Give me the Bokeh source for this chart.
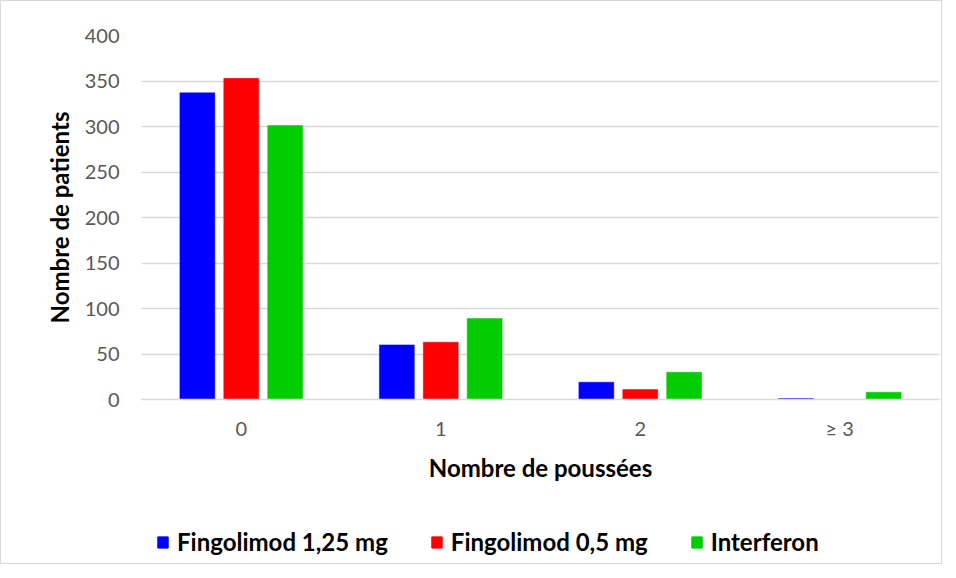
from bokeh.plotting import figure
from bokeh.layouts import column
from bokeh.models import ColumnDataSource, FactorRange, Legend, LegendItem, Range1d
from bokeh.transform import dodge
from bokeh.embed import file_html
from bokeh.resources import INLINE

categories = ["0", "1", "2", "≥ 3"]
fingolimod_125 = [337, 60, 19, 1]
fingolimod_05 = [353, 63, 11, 0]
interferon = [301, 89, 30, 8]
series_names = ["Fingolimod 1,25 mg", "Fingolimod 0,5 mg", "Interferon"]
colors = ["#0000ff", "#ff0000", "#00cc00"]

FONT = "Lato"

source = ColumnDataSource(data=dict(cat=categories, f125=fingolimod_125,
                                    f05=fingolimod_05, ifn=interferon))

p = figure(x_range=FactorRange(*categories), y_range=Range1d(0, 400),
           frame_width=798, frame_height=364, output_backend="svg", toolbar_location=None,
           min_border_left=140, min_border_right=2, min_border_top=34,
           min_border_bottom=100)

offsets = [-0.22, 0.0, 0.22]
for col, off, c in zip(["f125", "f05", "ifn"], offsets, colors):
    p.vbar(x=dodge("cat", off, range=p.x_range), top=col, width=0.175,
           source=source, fill_color=c, line_color=c, line_width=0.5)

p.outline_line_color = None
p.xgrid.grid_line_color = None
p.ygrid.grid_line_color = "#d9d9d9"
p.ygrid.grid_line_width = 1.3
p.yaxis.ticker = [0, 50, 100, 150, 200, 250, 300, 350, 400]

for ax in (p.xaxis, p.yaxis):
    ax.major_tick_line_color = None
    ax.minor_tick_line_color = None
    ax.major_tick_out = 0
    ax.major_tick_in = 0
    ax.minor_tick_out = 0
    ax.major_label_text_font = FONT
    ax.major_label_text_font_size = "20px"
    ax.major_label_text_color = "#595959"
    ax.axis_label_text_font = FONT
    ax.axis_label_text_font_style = "bold"
    ax.axis_label_text_font_size = "24px"
    ax.axis_label_text_color = "#000000"

p.yaxis.axis_line_color = None
p.xaxis.axis_line_color = "#d9d9d9"
p.xaxis.axis_line_width = 1.3
p.yaxis.axis_label = "Nombre de patients"
p.xaxis.axis_label = "Nombre de poussées"
p.yaxis.major_label_standoff = 22
p.yaxis.axis_label_standoff = 8
p.xaxis.major_label_standoff = 16
p.xaxis.axis_label_standoff = 10

# legend strip (separate figure so the legend is not clipped by the main frame)
lg = figure(width=940, height=64, x_range=Range1d(0, 1), y_range=Range1d(0, 1),
            x_axis_type=None, y_axis_type=None, output_backend="svg",
            toolbar_location=None, min_border=0)
lg.outline_line_color = None
lg.grid.grid_line_color = None
# off-screen swatch source: only used to give the legend its colour swatches
swatch = ColumnDataSource(data=dict(x=[-5], top=[-5]))
legend_renderers = [lg.vbar(x="x", top="top", width=0.1, source=swatch,
                            fill_color=c, line_color=c) for c in colors]

legend = Legend(items=[LegendItem(label=n, renderers=[r])
                       for n, r in zip(series_names, legend_renderers)],
                orientation="horizontal", location=(15, 7), margin=0, padding=0,
                glyph_width=13, glyph_height=14, label_standoff=8, spacing=42,
                label_text_font=FONT, label_text_font_style="bold",
                label_text_font_size="24px", label_text_color="#000000",
                border_line_color=None, background_fill_alpha=0)
lg.add_layout(legend, "center")

layout = column(p, lg, spacing=0,
                styles={"border": "1px solid #d9d9d9"})

open("out.html", "w").write(file_html(layout, INLINE))
